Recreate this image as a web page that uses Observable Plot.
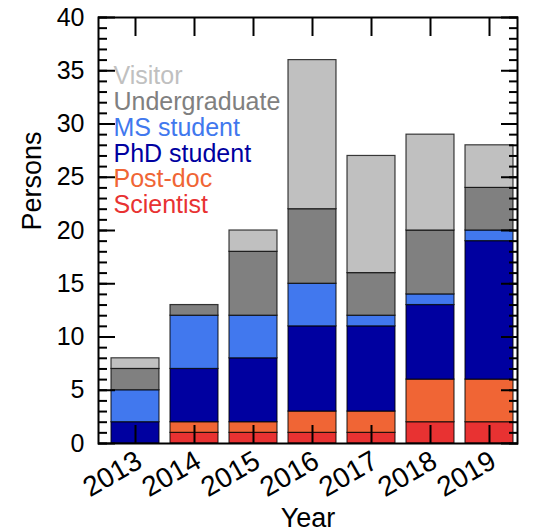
<!DOCTYPE html>
<html>
<head>
<meta charset="utf-8">
<script src="https://cdn.jsdelivr.net/npm/d3@7"></script>
<script src="https://cdn.jsdelivr.net/npm/@observablehq/plot@0.6"></script>
<style>
  html, body { margin: 0; padding: 0; background: #fff; }
  #chart svg { display: block; }
</style>
</head>
<body>
<div id="chart"></div>
<script>
const years = [2013, 2014, 2015, 2016, 2017, 2018, 2019];
const roles = ["Scientist", "Post-doc", "PhD student", "MS student", "Undergraduate", "Visitor"];
const roleColors = ["#e83232", "#f06535", "#0000a0", "#4178ee", "#808080", "#c0c0c0"];
const scientist = [0, 1, 1, 1, 1, 2, 2];
const postdoc = [0, 1, 1, 2, 2, 4, 4];
const phd = [2, 5, 6, 8, 8, 7, 13];
const ms = [3, 5, 4, 4, 1, 1, 1];
const undergrad = [2, 1, 6, 7, 4, 6, 4];
const visitor = [1, 0, 2, 14, 11, 9, 4];
const yMajor = [0, 5, 10, 15, 20, 25, 30, 35, 40];
const yMinor = d3.range(0, 41, 1);

const series = [scientist, postdoc, phd, ms, undergrad, visitor];
const data = [];
series.forEach((vals, si) => {
  vals.forEach((v, i) => {
    if (v > 0) data.push({year: years[i], role: roles[si], value: v});
  });
});

const font = "'Liberation Sans', Arial, Helvetica, sans-serif";
const legendOrder = roles.slice().reverse();
const blank = () => "";

const chart = Plot.plot({
  width: 535,
  height: 532,
  marginLeft: 98,
  marginRight: 18,
  marginTop: 17,
  marginBottom: 89,
  style: {fontFamily: font, fontSize: "25px", color: "#000", background: "#fff"},
  x: {type: "band", domain: years, range: [110, 514], paddingInner: 0.19, paddingOuter: 0},
  y: {domain: [0, 40]},
  color: {domain: roles, range: roleColors},
  marks: [
    Plot.barY(data, {
      x: "year", y: "value", fill: "role",
      order: roles,
      stroke: "#000", strokeOpacity: 0.75, strokeWidth: 1.2
    }),
    // y axis labels
    Plot.axisY({anchor: "left", ticks: yMajor, tickSize: 0, tickPadding: 14, fontSize: 25, label: null}),
    // y ticks inside (left & right)
    Plot.axisY({anchor: "left", ticks: yMinor, tickSize: -9, tickFormat: blank, strokeWidth: 2, label: null}),
    Plot.axisY({anchor: "left", ticks: yMajor, tickSize: -17, tickFormat: blank, strokeWidth: 2, label: null}),
    Plot.axisY({anchor: "right", ticks: yMinor, tickSize: -9, tickFormat: blank, strokeWidth: 2, label: null}),
    Plot.axisY({anchor: "right", ticks: yMajor, tickSize: -17, tickFormat: blank, strokeWidth: 2, label: null}),
    // x ticks inside (top & bottom)
    Plot.axisX({anchor: "bottom", tickSize: -18, tickFormat: blank, strokeWidth: 2, label: null}),
    Plot.axisX({anchor: "top", tickSize: -18, tickFormat: blank, strokeWidth: 2, label: null}),
    // x labels rotated
    Plot.axisX({anchor: "bottom", tickSize: 0, tickPadding: 15, tickRotate: -30, fontSize: 28,
      dx: 4, tickFormat: d => String(d), label: null}),
    Plot.frame({stroke: "#000", strokeWidth: 2}),
    // axis titles
    Plot.text(["Persons"], {frameAnchor: "left", rotate: -90, dx: -66, fontSize: 27, fill: "#000"}),
    Plot.text(["Year"], {frameAnchor: "bottom", dy: 83, fontSize: 27, fill: "#000"}),
    // in-plot legend
    ...legendOrder.map((r, i) => Plot.text([r], {
      frameAnchor: "top-left", textAnchor: "start", dx: 15, dy: 49 + i * 25.8,
      fontSize: 25, fill: roleColors[roles.indexOf(r)]
    }))
  ]
});
document.getElementById("chart").appendChild(chart);
</script>
</body>
</html>
